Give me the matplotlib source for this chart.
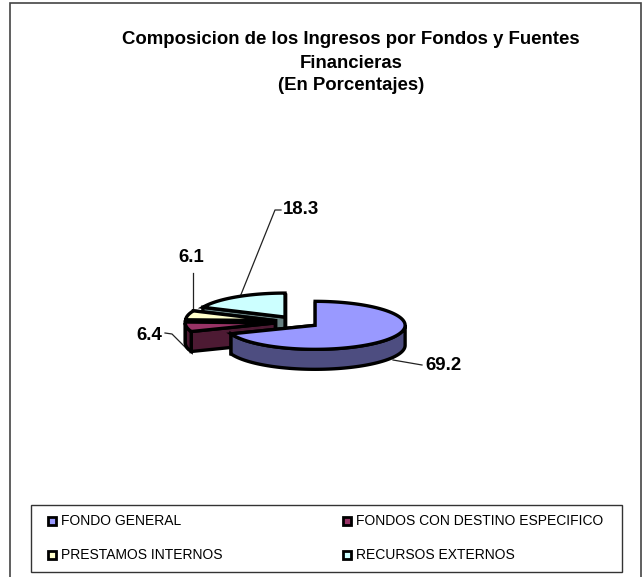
import numpy as np
import matplotlib
matplotlib.use('Agg')
import matplotlib.pyplot as plt
from matplotlib.patches import Polygon, Rectangle

categories = ['FONDO GENERAL', 'FONDOS CON DESTINO ESPECIFICO', 'PRESTAMOS INTERNOS', 'RECURSOS EXTERNOS']
values = [69.2, 6.4, 6.1, 18.3]
top_colors = ['#9999ff', '#993366', '#ffffcc', '#ccffff']
side_colors = ['#4d4d80', '#4d1a33', '#808066', '#668080']
title_lines = ['Composicion de los Ingresos por Fondos y Fuentes', 'Financieras', '(En Porcentajes)']

plt.rcParams['font.family'] = ['Liberation Sans', 'DejaVu Sans']

W, H = 642, 577
fig = plt.figure(figsize=(W / 100, H / 100), dpi=100)
ax = fig.add_axes([0, 0, 1, 1])
ax.set_xlim(0, W)
ax.set_ylim(H, 0)
ax.axis('off')

# pie geometry, in pixels
cx, cy = 297, 322
rx, ry = 90, 24
depth = 20
explode = 22
squash = ry / rx


def pt(x0, y0, a):
    # a is degrees clockwise from 12 o'clock
    r = np.radians(a)
    return x0 + rx * np.sin(r), y0 - ry * np.cos(r)


def draw_slice(start, end, top, side, z):
    mid = np.radians((start + end) / 2)
    x0 = cx + explode * np.sin(mid)
    y0 = cy - explode * squash * np.cos(mid)
    ang = np.linspace(start, end, 120)
    xs, ys = pt(x0, y0, ang)
    lw = 2.4
    # cut faces, the one further back first
    cuts = sorted((start, end), key=lambda a: pt(x0, y0, a)[1])
    for a in cuts:
        ex, ey = pt(x0, y0, a)
        face = [(x0, y0), (ex, ey), (ex, ey + depth), (x0, y0 + depth)]
        ax.add_patch(Polygon(face, closed=True, fc=side, ec='black', lw=lw, zorder=z))
    # outer wall only where the rim faces the viewer
    front = (ang >= 90) & (ang <= 270)
    if front.any():
        fx, fy = xs[front], ys[front]
        wall = np.r_[np.c_[fx, fy], np.c_[fx[::-1], fy[::-1] + depth]]
        ax.add_patch(Polygon(wall, closed=True, fc=side, ec='black', lw=lw, zorder=z + 0.1))
    # top surface
    surf = np.r_[[[x0, y0]], np.c_[xs, ys]]
    ax.add_patch(Polygon(surf, closed=True, fc=top, ec='black', lw=lw, zorder=z + 0.2))


# outer frame runs off the bottom of the picture, legend box sits inside it
ax.add_patch(Rectangle((10, 3), 631, 590, fc='white', ec='#444444', lw=1.2, zorder=0))
ax.add_patch(Rectangle((31, 505), 591, 67, fc='white', ec='#333333', lw=1.0, zorder=1))

# slices run clockwise from 12 o'clock, drawn back to front
edges = np.r_[0, np.cumsum(values)] / sum(values) * 360
for i, z in zip([3, 2, 1, 0], [2, 3, 4, 5]):
    draw_slice(edges[i], edges[i + 1], top_colors[i], side_colors[i], z)

# title
for line, y in zip(title_lines, [39, 63, 86]):
    ax.text(351, y, line, ha='center', va='center', fontsize=13.4, fontweight='bold', color='black')

# data labels and leader lines
label_pos = [(443, 366), (149, 335), (191, 258), (301, 209)]
leaders = [
    [(393, 360), (422, 365)],
    [(165, 333), (172, 334), (188, 350)],
    [(193, 273), (193, 312)],
    [(240, 297), (275, 210), (281, 210)],
]
for v, p, l in zip(values, label_pos, leaders):
    ax.text(p[0], p[1], '%.1f' % v, ha='center', va='center', fontsize=13.4, fontweight='bold', color='black', zorder=8)
    l = np.array(l)
    ax.plot(l[:, 0], l[:, 1], color='#222222', lw=0.9, zorder=1.5)

# legend
leg_x = [48, 343, 48, 343]
leg_y = [521, 521, 555, 555]
for name, col, x, y in zip(categories, top_colors, leg_x, leg_y):
    ax.add_patch(Rectangle((x, y - 4), 8, 8, fc=col, ec='black', lw=2.0, zorder=6))
    ax.text(x + 13, y, name, ha='left', va='center', fontsize=10, color='black', zorder=6)

fig.savefig('out.png', dpi=100)
